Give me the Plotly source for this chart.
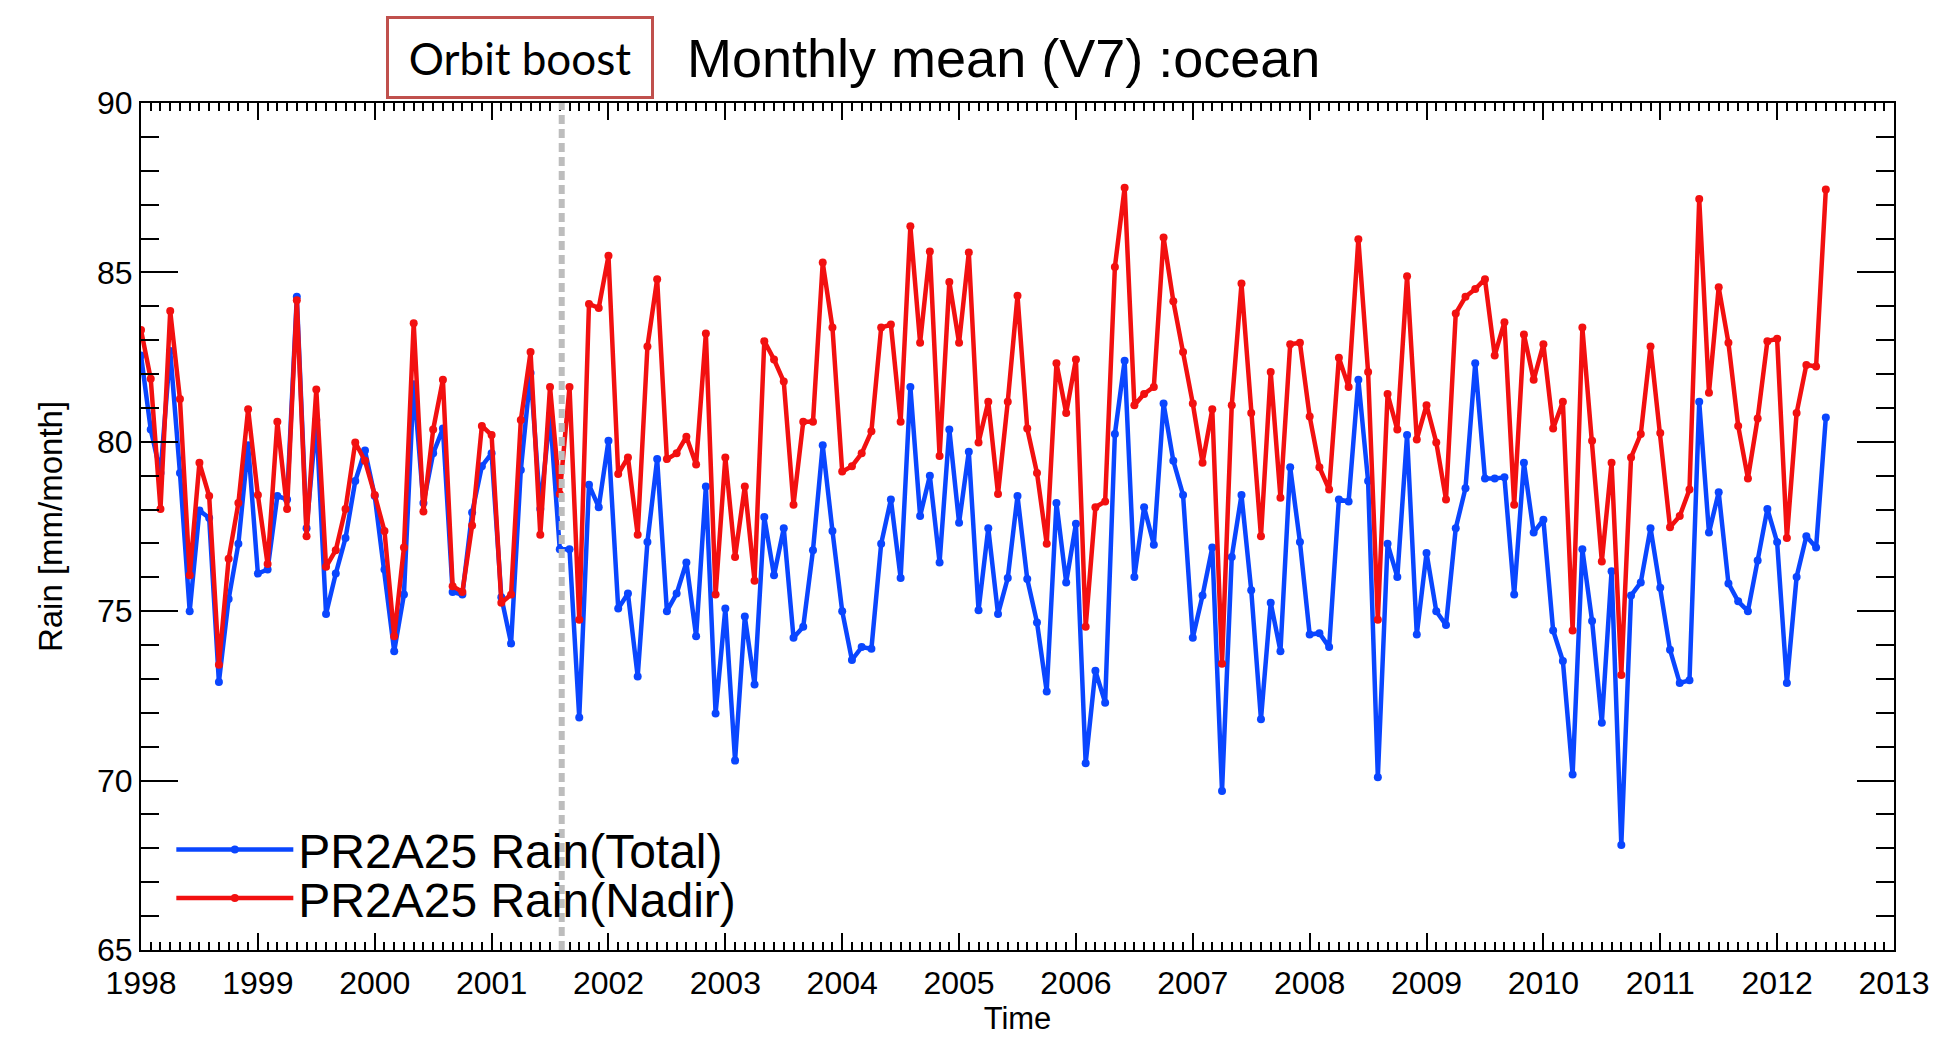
import plotly.graph_objects as go

# ---- data (monthly, Jan 1998 .. Jun 2012) ----
start_year = 1998
n_months = 174
time = [start_year + m / 12 for m in range(n_months)]

rain_total = [
    82.55, 80.36, 79.08, 82.68, 79.08, 75.00, 77.97, 77.75, 72.91, 75.36, 76.99, 79.90,
    76.11, 76.23, 78.40, 78.30, 84.28, 77.45, 80.64, 74.92, 76.11, 77.16, 78.84, 79.74,
    78.40, 76.23, 73.82, 75.49, 81.70, 78.19, 79.66, 80.39, 75.57, 75.49, 77.91, 79.28,
    79.66, 75.41, 74.05, 79.17, 82.03, 78.02, 80.80, 76.83, 76.83, 71.86, 78.73, 78.07,
    80.03, 75.08, 75.52, 73.07, 77.04, 79.49, 75.00, 75.52, 76.44, 74.26, 78.68, 71.98,
    75.08, 70.59, 74.84, 72.84, 77.78, 76.06, 77.45, 74.22, 74.54, 76.80, 79.90, 77.37,
    75.00, 73.56, 73.94, 73.89, 76.99, 78.30, 75.98, 81.62, 77.81, 79.00, 76.44, 80.36,
    77.61, 79.71, 75.03, 77.45, 74.92, 75.98, 78.40, 75.95, 74.67, 72.63, 78.19, 75.85,
    77.58, 70.51, 73.24, 72.30, 80.23, 82.39, 76.01, 78.07, 76.96, 81.13, 79.44, 78.43,
    74.22, 75.46, 76.88, 69.69, 76.60, 78.43, 75.62, 71.81, 75.25, 73.82, 79.25, 77.04,
    74.31, 74.35, 73.94, 78.30, 78.24, 81.83, 78.84, 70.10, 76.99, 76.01, 80.20, 74.31,
    76.72, 75.00, 74.59, 77.45, 78.63, 82.32, 78.92, 78.92, 78.95, 75.49, 79.38, 77.32,
    77.70, 74.43, 73.53, 70.18, 76.83, 74.71, 71.71, 76.18, 68.10, 75.46, 75.85, 77.45,
    75.69, 73.86, 72.88, 72.96, 81.18, 77.32, 78.51, 75.82, 75.29, 75.00, 76.50, 78.02,
    77.04, 72.88, 76.01, 77.21, 76.88, 80.72,
]

rain_nadir = [
    83.30, 81.86, 78.02, 83.86, 81.26, 76.06, 79.38, 78.40, 73.42, 76.55, 78.19, 80.96,
    78.43, 76.39, 80.59, 78.02, 84.18, 77.21, 81.54, 76.31, 76.80, 78.02, 79.98, 79.44,
    78.43, 77.37, 74.26, 76.88, 83.50, 77.94, 80.36, 81.83, 75.74, 75.57, 77.53, 80.47,
    80.20, 75.25, 75.49, 80.64, 82.65, 77.26, 81.62, 78.46, 81.62, 74.75, 84.07, 83.95,
    85.49, 79.05, 79.54, 77.26, 82.81, 84.80, 79.49, 79.66, 80.15, 79.33, 83.20, 75.49,
    79.54, 76.60, 78.68, 75.90, 82.97, 82.43, 81.78, 78.14, 80.59, 80.59, 85.29, 83.37,
    79.12, 79.28, 79.66, 80.31, 83.37, 83.46, 80.59, 86.36, 82.92, 85.62, 79.58, 84.72,
    82.92, 85.59, 79.98, 81.18, 78.46, 81.18, 84.31, 80.39, 79.08, 76.99, 82.32, 80.85,
    82.43, 74.54, 78.07, 78.24, 85.16, 87.50, 81.08, 81.41, 81.62, 86.03, 84.15, 82.65,
    81.13, 79.38, 80.96, 73.45, 81.08, 84.67, 80.85, 77.21, 82.06, 78.35, 82.88, 82.92,
    80.75, 79.25, 78.59, 82.48, 81.62, 85.98, 82.06, 74.75, 81.41, 80.36, 84.89, 80.07,
    81.08, 79.98, 78.30, 83.79, 84.28, 84.51, 84.80, 82.55, 83.53, 78.14, 83.17, 81.83,
    82.88, 80.39, 81.18, 74.43, 83.37, 80.03, 76.47, 79.38, 73.12, 79.54, 80.23, 82.81,
    80.26, 77.48, 77.81, 78.59, 87.17, 81.45, 84.56, 82.92, 80.47, 78.92, 80.69, 82.97,
    83.04, 77.16, 80.85, 82.27, 82.22, 87.45,
]

series_names = ["PR2A25 Rain(Total)", "PR2A25 Rain(Nadir)"]
orbit_boost_time = 2001.6
x_range = [1998, 2013]
y_range = [65, 90]
title_text = "Monthly mean (V7) :ocean"
box_text = "Orbit boost"
x_title = "Time"
y_title = "Rain [mm/month]"

BLUE = "#0a46ff"
RED = "#f21010"
FONT = "Liberation Sans, Arial, sans-serif"

fig = go.Figure()
fig.add_trace(go.Scatter(
    x=time, y=rain_total, mode="lines+markers", name=series_names[0],
    line=dict(color=BLUE, width=4.5), marker=dict(color=BLUE, size=8),
    legend="legend",
))
fig.add_trace(go.Scatter(
    x=time, y=rain_nadir, mode="lines+markers", name=series_names[1],
    line=dict(color=RED, width=4.5), marker=dict(color=RED, size=8),
    legend="legend2",
))

# orbit boost marker line
fig.add_shape(type="line", xref="x", yref="y",
              x0=orbit_boost_time, x1=orbit_boost_time, y0=y_range[0], y1=y_range[1],
              line=dict(color="#bdbdbd", width=6, dash="9px,5px"), layer="above")

fig.add_annotation(
    text=box_text, xref="paper", yref="paper", x=0.2164, y=1.0532,
    xanchor="center", yanchor="middle", showarrow=False,
    font=dict(family="Lato, Noto Sans, sans-serif", size=44, color="black"),
    bordercolor="#c0504d", borderwidth=3, borderpad=2, bgcolor="white",
    width=258, height=73,
)

axis_common = dict(
    showline=True, linecolor="black", linewidth=2, mirror="ticks",
    ticks="inside", tickcolor="black", tickwidth=2,
    showgrid=False, zeroline=False,
    tickfont=dict(family=FONT, size=32, color="black"),
)

fig.update_xaxes(
    range=x_range, tickmode="linear", tick0=1998, dtick=1, tickformat="d",
    ticklen=17, ticklabelstandoff=4,
    minor=dict(ticks="inside", dtick=1 / 12, tick0=1998, ticklen=8,
               tickwidth=1.5, tickcolor="black", showgrid=False),
    title=dict(text=x_title, font=dict(family=FONT, size=31, color="black"), standoff=2),
    **axis_common,
)
fig.update_yaxes(
    range=y_range, tickmode="linear", tick0=65, dtick=5,
    ticklen=37,
    minor=dict(ticks="inside", dtick=1, tick0=65, ticklen=18,
               tickwidth=1.5, tickcolor="black", showgrid=False),
    title=dict(text=y_title, font=dict(family=FONT, size=33, color="black"), standoff=24),
    **axis_common,
)

legend_common = dict(
    x=0.0173, xanchor="left", yanchor="middle",
    bgcolor="rgba(0,0,0,0)", borderwidth=0,
    font=dict(family=FONT, size=48, color="black"),
    itemwidth=117,
)

fig.update_layout(
    width=1933, height=1037,
    margin=dict(l=141, r=39, t=103, b=87, autoexpand=False),
    paper_bgcolor="white", plot_bgcolor="white",
    title=dict(text=title_text, x=687 / 1933, xanchor="left", xref="container",
               y=1 - 58 / 1037, yanchor="middle", yref="container",
               font=dict(family=FONT, size=54, color="black")),
    legend=dict(y=0.1182, **legend_common),
    legend2=dict(y=0.061, **legend_common),
    showlegend=True,
)

fig.write_html(
    "out.html",
    config={"displayModeBar": False},
    post_script=(
        "document.body.style.margin='0';"
        "document.body.style.overflow='hidden';"
        "document.documentElement.style.overflow='hidden';"
    ),
)
